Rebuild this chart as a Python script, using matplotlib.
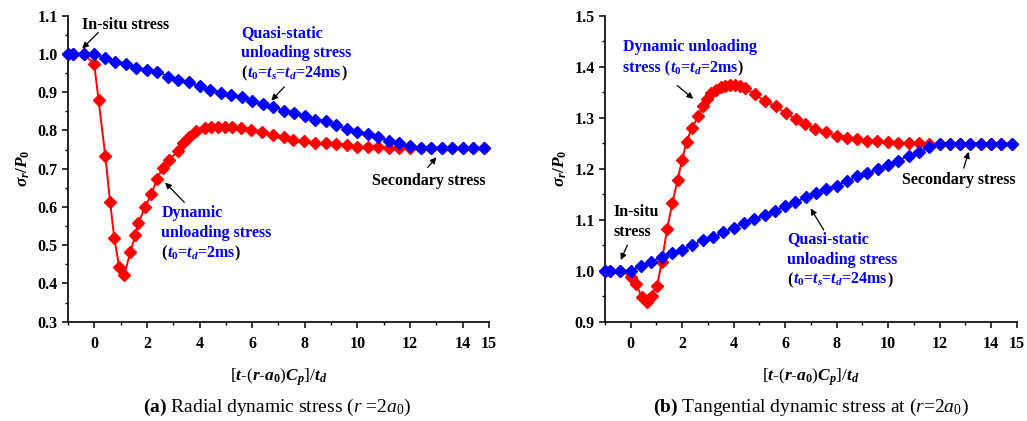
import matplotlib
matplotlib.use('Agg')
import matplotlib.pyplot as plt
import matplotlib.transforms as mtransforms
from matplotlib.ticker import MultipleLocator, FixedLocator
import numpy as np

# ---------------- data ----------------
# quasi-static unloading (t0=ts=td=24ms), same time grid in both panels
qs_x = [-1.0, -0.8, -0.4, 0.0, 0.4, 0.8, 1.2, 1.6, 2.0, 2.4, 2.8, 3.2, 3.6, 4.0,
        4.4, 4.8, 5.2, 5.6, 6.0, 6.4, 6.8, 7.2, 7.6, 8.0, 8.4, 8.8, 9.2, 9.6,
        10.0, 10.4, 10.8, 11.2, 11.6, 12.0, 12.4, 12.8, 13.2, 13.6, 14.0, 14.4, 14.8]
radial_qs = [1.0, 1.0, 1.0, 1.0, 0.990, 0.980, 0.975, 0.962, 0.959, 0.954, 0.941,
             0.933, 0.926, 0.915, 0.907, 0.899, 0.892, 0.887, 0.876, 0.868, 0.862,
             0.852, 0.845, 0.838, 0.828, 0.824, 0.813, 0.804, 0.797, 0.792, 0.782,
             0.773, 0.766, 0.759, 0.755, 0.755, 0.755, 0.755, 0.755, 0.755, 0.755]
tang_qs = [1.0, 1.0, 1.0, 1.0, 1.009, 1.018, 1.026, 1.035, 1.041, 1.050, 1.060,
           1.066, 1.075, 1.084, 1.094, 1.101, 1.109, 1.117, 1.127, 1.134, 1.144,
           1.152, 1.160, 1.167, 1.176, 1.185, 1.191, 1.200, 1.208, 1.216, 1.225,
           1.233, 1.242, 1.249, 1.249, 1.249, 1.249, 1.249, 1.249, 1.249, 1.249]

# dynamic unloading (t0=td=2ms)
radial_dyn_x = [-1.0, -0.8, -0.4, 0.0, 0.16, 0.42, 0.6, 0.76, 0.95, 1.14, 1.37, 1.56,
                1.67, 1.93, 2.17, 2.38, 2.6, 2.85, 3.17, 3.36, 3.59, 3.87, 4.2, 4.45,
                4.7, 4.95, 5.25, 5.58, 5.96, 6.38, 6.78, 7.2, 7.57, 7.98, 8.4, 8.8,
                9.2, 9.6, 10.0, 10.4, 10.8, 11.2, 11.6, 12.0, 12.4, 12.8, 13.2, 13.6,
                14.0, 14.4, 14.8]
radial_dyn = [1.0, 1.0, 1.0, 0.973, 0.880, 0.733, 0.613, 0.518, 0.442, 0.423, 0.482,
              0.527, 0.557, 0.600, 0.633, 0.673, 0.702, 0.722, 0.747, 0.767, 0.784,
              0.798, 0.807, 0.808, 0.810, 0.810, 0.808, 0.806, 0.800, 0.795, 0.789,
              0.782, 0.775, 0.772, 0.768, 0.766, 0.764, 0.761, 0.758, 0.757, 0.756,
              0.755, 0.755, 0.755, 0.755, 0.755, 0.755, 0.755, 0.755, 0.755, 0.755]

tang_dyn_x = [-1.0, -0.8, -0.4, 0.0, 0.22, 0.42, 0.62, 0.82, 1.02, 1.21, 1.41, 1.62,
              1.82, 2.0, 2.17, 2.37, 2.63, 2.81, 2.98, 3.13, 3.3, 3.49, 3.65, 3.86,
              4.04, 4.23, 4.44, 4.81, 5.2, 5.63, 6.02, 6.43, 6.79, 7.18, 7.6, 8.0,
              8.41, 8.8, 9.19, 9.58, 10.0, 10.4, 10.8, 11.2, 11.6, 12.0, 12.4, 12.8,
              13.2, 13.6, 14.0, 14.4, 14.8]
tang_dyn = [1.0, 1.0, 1.0, 0.988, 0.973, 0.949, 0.938, 0.951, 0.970, 1.018, 1.081,
            1.133, 1.178, 1.218, 1.253, 1.279, 1.303, 1.323, 1.336, 1.348, 1.354,
            1.360, 1.363, 1.364, 1.364, 1.362, 1.358, 1.346, 1.333, 1.322, 1.309,
            1.297, 1.288, 1.277, 1.271, 1.264, 1.260, 1.258, 1.255, 1.254, 1.252,
            1.251, 1.250, 1.250, 1.249, 1.249, 1.249, 1.249, 1.249, 1.249, 1.249,
            1.249, 1.249]

xtick_vals = [0, 2, 4, 6, 8, 10, 12, 14, 15]
xtick_labels = ['0', '2', '4', '6', '8', '10', '12', '14', '15']

# ---------------- style ----------------
plt.rcParams['font.family'] = 'Liberation Serif'
plt.rcParams['font.weight'] = 'bold'
plt.rcParams['mathtext.fontset'] = 'custom'
plt.rcParams['mathtext.rm'] = 'Liberation Serif:bold'
plt.rcParams['mathtext.bf'] = 'Liberation Serif:bold'
plt.rcParams['mathtext.it'] = 'Liberation Serif:italic:bold'
plt.rcParams['mathtext.sf'] = 'Liberation Serif:normal'          # regular, for captions
plt.rcParams['mathtext.tt'] = 'Liberation Serif:italic:normal'   # regular italic, for captions

RED = '#ff0000'
BLUE = '#0000ff'
FS = 11.5

fig = plt.figure(figsize=(10.27, 4.21), dpi=100)
ax1 = fig.add_axes([0.0662, 0.2359, 0.4099, 0.7268])
ax2 = fig.add_axes([0.5891, 0.2359, 0.4009, 0.7268])


def color_line(ax, x, y, parts, size=FS):
    # draw pieces of text one after another on the same baseline
    rend = fig.canvas.get_renderer()
    trans = ax.transData
    for s, c in parts:
        t = ax.text(x, y, s, color=c, fontsize=size, fontweight='bold',
                    va='baseline', ha='left', transform=trans)
        ex = t.get_window_extent(renderer=rend)
        trans = mtransforms.offset_copy(t.get_transform(), fig=fig,
                                        x=ex.width, units='dots')


def arrow(ax, tail, head):
    ax.annotate('', xy=head, xytext=tail,
                arrowprops=dict(arrowstyle='-|>', color='k', lw=0.9,
                                mutation_scale=9, shrinkA=0, shrinkB=0))


def setup(ax, ylo, yhi):
    ax.set_xlim(-1, 15)
    ax.set_ylim(ylo, yhi)
    for s in ['top', 'right']:
        ax.spines[s].set_visible(False)
    for s in ['left', 'bottom']:
        ax.spines[s].set_linewidth(1.2)
    ax.xaxis.set_major_locator(FixedLocator(xtick_vals))
    ax.set_xticklabels(xtick_labels)
    ax.get_xticklabels()[-1].set_fontsize(13.5)
    ax.xaxis.set_minor_locator(FixedLocator([-1, 1, 3, 5, 7, 9, 11, 13]))
    ax.yaxis.set_major_locator(MultipleLocator(0.1))
    ax.yaxis.set_minor_locator(MultipleLocator(0.05))
    ax.yaxis.set_major_formatter(matplotlib.ticker.FormatStrFormatter('%.1f'))
    ax.tick_params(which='major', direction='out', length=4.5, width=1.1, labelsize=11.5)
    ax.tick_params(which='minor', direction='out', length=2.5, width=1.0)
    ax.tick_params(axis='x', pad=6)
    ax.tick_params(axis='y', pad=3)
    ax.set_xlabel(r'[$t$-($r$-$a_0$)$C_p$]/$t_d$', fontsize=12.5, labelpad=10)
    ax.set_ylabel(r'$\sigma_r/P_0$', fontsize=12.5, labelpad=4)


mk = dict(marker='D', markersize=6.3, lw=1.4, clip_on=False)

# ---------------- (a) radial ----------------
ax1.plot(radial_dyn_x, radial_dyn, color=RED, zorder=3, **mk)
ax1.plot(qs_x, radial_qs, color=BLUE, zorder=4, **mk)
setup(ax1, 0.3, 1.1)

ax1.text(-0.46, 1.064, 'In-situ stress', fontsize=FS, color='k')
arrow(ax1, (0.15, 1.056), (-0.46, 1.014))

ax1.text(5.59, 1.045, 'Quasi-static', fontsize=FS, color=BLUE)
ax1.text(5.59, 0.993, 'unloading stress', fontsize=FS, color=BLUE)
color_line(ax1, 5.59, 0.938, [('(', 'k'), (r'$t_0$=$t_s$=$t_d$=24ms', BLUE), (')', 'k')])
arrow(ax1, (7.22, 0.914), (6.73, 0.878))

ax1.text(10.57, 0.658, 'Secondary stress', fontsize=FS, color='k')
arrow(ax1, (12.67, 0.703), (13.0, 0.730))

ax1.text(2.55, 0.575, 'Dynamic', fontsize=FS, color=BLUE)
ax1.text(2.55, 0.522, 'unloading stress', fontsize=FS, color=BLUE)
color_line(ax1, 2.55, 0.467, [('(', 'k'), (r'$t_0$=$t_d$=2ms', BLUE), (')', 'k')])
arrow(ax1, (3.42, 0.612), (2.69, 0.664))

# ---------------- (b) tangential ----------------
ax2.plot(tang_dyn_x, tang_dyn, color=RED, zorder=3, **mk)
ax2.plot(qs_x, tang_qs, color=BLUE, zorder=4, **mk)
setup(ax2, 0.9, 1.5)

ax2.text(-0.31, 1.430, 'Dynamic unloading', fontsize=FS, color=BLUE)
color_line(ax2, -0.31, 1.389, [('stress (', BLUE), (r'$t_0$=$t_d$=2ms', BLUE), (')', 'k')])
arrow(ax2, (1.81, 1.363), (2.43, 1.337))

ax2.text(10.56, 1.170, 'Secondary stress', fontsize=FS, color='k')
arrow(ax2, (12.94, 1.201), (13.13, 1.233))

ax2.text(-0.66, 1.108, 'In-situ', fontsize=FS, color='k')
ax2.text(-0.66, 1.069, 'stress', fontsize=FS, color='k')
arrow(ax2, (-0.13, 1.05), (-0.39, 1.021))

ax2.text(6.08, 1.054, 'Quasi-static', fontsize=FS, color=BLUE)
ax2.text(6.08, 1.013, 'unloading stress', fontsize=FS, color=BLUE)
color_line(ax2, 6.08, 0.974, [('(', 'k'), (r'$t_0$=$t_s$=$t_d$=24ms', BLUE), (')', 'k')])
arrow(ax2, (7.5, 1.08), (6.99, 1.122))

# captions
fig.text(0.27, 0.033, r'$\mathbf{(a)}$ Radial dynamic stress ($\mathtt{r}$ =2$\mathtt{a}_{\mathsf{0}}$)',
         ha='center', va='center', fontsize=14, fontweight='normal')
fig.text(0.79, 0.033, r'$\mathbf{(b)}$ Tangential dynamic stress at ($\mathtt{r}$=2$\mathtt{a}_{\mathsf{0}}$)',
         ha='center', va='center', fontsize=14, fontweight='normal')

fig.savefig('out.png', dpi=100)
